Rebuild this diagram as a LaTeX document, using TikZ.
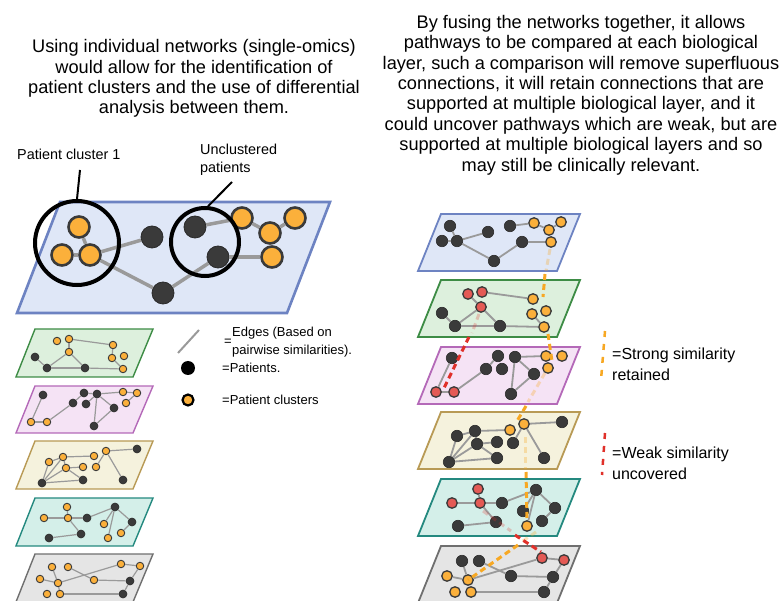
\documentclass[tikz,border=0pt]{standalone}
\usepackage{fontspec}
\setmainfont{Liberation Sans}
\definecolor{dkf}{HTML}{3A3A3A}
\definecolor{dkb}{HTML}{2A2A2A}
\definecolor{ogf}{HTML}{FBB03B}
\definecolor{rdf}{HTML}{E45A55}
\definecolor{edg}{HTML}{9A9A9A}
\definecolor{ogd}{HTML}{F7A823}
\definecolor{rdd}{HTML}{E0302A}
\definecolor{bluef}{HTML}{DFE7F7}\definecolor{blueb}{HTML}{6D83C2}
\definecolor{greenf}{HTML}{DDF0DD}\definecolor{greenb}{HTML}{3D8C45}
\definecolor{purf}{HTML}{F5E3F5}\definecolor{purb}{HTML}{B469B8}
\definecolor{yelf}{HTML}{F5F2DD}\definecolor{yelb}{HTML}{B89A55}
\definecolor{tealf}{HTML}{D4EFE9}\definecolor{tealb}{HTML}{24897F}
\definecolor{grayf}{HTML}{E5E5E5}\definecolor{grayb}{HTML}{6F6F6F}
\begin{document}
\begin{tikzpicture}[x=1pt,y=-1pt,
  dkS/.style={circle,fill=dkf,draw=dkb,line width=0.6pt,inner sep=0pt,minimum size=8pt},
  ogS/.style={circle,fill=ogf,draw=dkf,line width=0.9pt,inner sep=0pt,minimum size=7.5pt},
  dkM/.style={circle,fill=dkf,draw=dkb,line width=0.6pt,inner sep=0pt,minimum size=11.5pt},
  ogM/.style={circle,fill=ogf,draw=dkf,line width=1.3pt,inner sep=0pt,minimum size=10.5pt},
  rdM/.style={circle,fill=rdf,draw=dkf,line width=1.3pt,inner sep=0pt,minimum size=10.5pt},
  dkL/.style={circle,fill=dkf,draw=dkb,line width=0.8pt,inner sep=0pt,minimum size=22pt},
  ogL/.style={circle,fill=ogf,draw=dkf,line width=2.6pt,inner sep=0pt,minimum size=21pt},
  edS/.style={draw=edg,line width=1.2pt},
  edM/.style={draw=edg,line width=1.8pt},
  edL/.style={draw=edg,line width=3.5pt},
  planeS/.style={line width=1.4pt},
  planeM/.style={line width=1.8pt},
  ringbox/.style={circle,draw=black,line width=4pt,inner sep=0pt},
  ogdash/.style={draw=ogd,line width=3pt,dash pattern=on 6pt off 4pt},
  rddash/.style={draw=rdd,line width=3pt,dash pattern=on 6pt off 4pt},
  ptext/.style={align=center,font=\fontsize{18.2}{20.4}\selectfont},
  lab/.style={align=left,font=\fontsize{14.4}{18}\selectfont,inner sep=0pt},
  leg/.style={anchor=west,align=left,font=\fontsize{13}{17.5}\selectfont,inner sep=0pt},
  legR/.style={anchor=west,align=left,font=\fontsize{16}{20}\selectfont,inner sep=0pt}
]
\useasboundingbox (0,0) rectangle (782,601);
\clip (0,0) rectangle (782,601);

% ---------- texts ----------
\node[ptext] (t1) at (194,78.5) {Using individual networks (single-omics)\\would allow for the identification of\\patient clusters and the use of differential\\analysis between them.};
\node[ptext] (t2) at (581,95) {By fusing the networks together, it allows\\pathways to be compared at each biological\\layer, such a comparison will remove superfluous\\connections, it will retain connections that are\\supported at multiple biological layer, and it\\could uncover pathways which are weak, but are\\supported at multiple biological layers and so\\may still be clinically relevant.};

% ---------- big plane ----------
\draw[fill=bluef,draw=blueb,line width=2.6pt] (60,202) -- (330,202) -- (287,313) -- (17,313) -- cycle;
\node[ogL] (A) at (79,227) {};
\node[ogL] (B) at (62,255) {};
\node[ogL] (C) at (90,255) {};
\node[dkL] (D) at (152,237) {};
\node[dkL] (E) at (195,227) {};
\node[dkL] (F) at (218,257) {};
\node[dkL] (G) at (163,293) {};
\node[ogL] (H) at (242,218) {};
\node[ogL] (I) at (270,233) {};
\node[ogL] (J) at (295,218) {};
\node[ogL] (K) at (272,257) {};
\foreach \a/\b in {A/C,B/C,C/D,C/G,G/F,E/H,H/I,I/J,F/K} \draw[edL] (\a) -- (\b);
\node[ringbox,minimum size=84pt] (c1) at (77,243) {};
\node[ringbox,minimum size=68pt] (c2) at (205,242) {};
\node[lab,anchor=west] (l1) at (17,154) {Patient cluster 1};
\node[lab,anchor=north west] (l2) at (200,144) {Unclustered\\patients};
\coordinate (p1) at (80,170);
\coordinate (p2) at (232,182);
\draw[line width=2pt] (p1) -- (c1.north);
\draw[line width=2pt] (p2) -- (c2.85);

% ---------- legend left ----------
\coordinate (le1) at (178,353);
\coordinate (le2) at (199,330);
\draw[draw=edg,line width=2pt] (le1) -- (le2);
\node[leg] (lt1) at (224,342) {=};
\node[leg] (lt2) at (232,342) {Edges (Based on\\pairwise similarities).};
\node[circle,fill=black,inner sep=0pt,minimum size=14pt] (ld) at (188,368) {};
\node[leg] (lt3) at (222,368) {=Patients.};
\node[circle,fill=ogf,draw=black,line width=2.2pt,inner sep=0pt,minimum size=11pt] (lo) at (188,400) {};
\node[leg] (lt4) at (222,400) {=Patient clusters};

% ---------- left small stack ----------
% green
\draw[planeS,fill=greenf,draw=greenb] (35,329) -- (153,329) -- (133,377) -- (16,377) -- cycle;
\node[ogS] (ga) at (57,341) {}; \node[ogS] (gb) at (69,339) {}; \node[ogS] (gc) at (69,352) {};
\node[dkS] (gd) at (35,357) {}; \node[dkS] (ge) at (47,368) {}; \node[dkS] (gf) at (85,368) {};
\node[ogS] (gg) at (113,345) {}; \node[ogS] (gh) at (124,356) {}; \node[ogS] (gi) at (112,358) {}; \node[ogS] (gj) at (123,369) {};
\foreach \a/\b in {gb/gc,gb/gg,gc/ge,gc/gf,gd/ge,ge/gf,gf/gj,gg/gi,gi/gj} \draw[edS] (\a) -- (\b);
% purple
\draw[planeS,fill=purf,draw=purb] (35,386) -- (153,386) -- (133,433) -- (16,433) -- cycle;
\node[dkS] (pa) at (43,395) {}; \node[ogS] (pb) at (31,422) {}; \node[ogS] (pc) at (47,422) {};
\node[dkS] (pd) at (73,403) {}; \node[dkS] (pe) at (84,393) {}; \node[dkS] (pf) at (86,404) {};
\node[dkS] (pg) at (97,394) {}; \node[dkS] (ph) at (114,408) {}; \node[dkS] (pi) at (94,426) {};
\node[ogS] (pj) at (123,392) {}; \node[ogS] (pk) at (137,393) {}; \node[ogS] (pl) at (126,403) {};
\foreach \a/\b in {pa/pb,pb/pc,pc/pd,pd/pe,pe/pg,pf/pg,pg/pj,pj/pk,pk/pl,pg/pi,pg/ph,ph/pi} \draw[edS] (\a) -- (\b);
% yellow
\draw[planeS,fill=yelf,draw=yelb] (35,441) -- (153,441) -- (133,489) -- (16,489) -- cycle;
\node[ogS] (ya) at (49,462) {}; \node[ogS] (yb) at (63,457) {}; \node[ogS] (yc) at (66,468) {};
\node[ogS] (yd) at (83,467) {}; \node[ogS] (ye) at (94,456) {}; \node[ogS] (yf) at (96,467) {};
\node[ogS] (yg) at (106,451) {}; \node[dkS] (yh) at (137,449) {}; \node[dkS] (yi) at (42,483) {};
\node[dkS] (yj) at (83,480) {}; \node[dkS] (yk) at (123,480) {};
\foreach \a/\b in {ya/yb,yb/ye,yb/yc,yc/yd,ya/yi,yb/yi,yc/yi,yi/yj,yc/yj,yg/yf,yg/yh,yg/yk} \draw[edS] (\a) -- (\b);
% teal
\draw[planeS,fill=tealf,draw=tealb] (35,498) -- (153,498) -- (133,546) -- (16,546) -- cycle;
\node[ogS] (ta) at (67,507) {}; \node[ogS] (tb) at (44,518) {}; \node[ogS] (tc) at (68,518) {};
\node[dkS] (td) at (87,518) {}; \node[dkS] (te) at (115,507) {}; \node[dkS] (tf) at (132,522) {};
\node[ogS] (tg) at (104,524) {}; \node[ogS] (th) at (108,538) {}; \node[ogS] (ti) at (121,533) {};
\node[dkS] (tj) at (49,538) {}; \node[dkS] (tk) at (81,534) {};
\foreach \a/\b in {ta/tc,tb/tc,tc/td,td/te,te/tf,te/tg,te/th,tf/ti,tc/tk,tj/tk} \draw[edS] (\a) -- (\b);
% gray
\draw[planeS,fill=grayf,draw=grayb] (35,554) -- (153,554) -- (133,602) -- (16,602) -- cycle;
\node[ogS] (ka) at (52,567) {}; \node[ogS] (kb) at (68,567) {}; \node[ogS] (kc) at (40,579) {};
\node[ogS] (kd) at (58,583) {}; \node[ogS] (ke) at (47,594) {}; \node[ogS] (kf) at (60,594) {};
\node[ogS] (kg) at (94,580) {}; \node[ogS] (kh) at (121,564) {}; \node[ogS] (ki) at (140,566) {};
\node[dkS] (kj) at (130,581) {}; \node[dkS] (kk) at (123,594) {};
\foreach \a/\b in {ka/kd,kc/kd,kd/kf,kb/kg,kd/kh,kh/ki,ki/kj,kg/kj,kj/kk,kf/kk} \draw[edS] (\a) -- (\b);

% ---------- right stack ----------
% blue
\draw[planeM,fill=bluef,draw=blueb] (441,214) -- (580,214) -- (557,271) -- (418,271) -- cycle;
\node[dkM] (ba) at (450,226) {}; \node[dkM] (bb) at (442,241) {}; \node[dkM] (bc) at (457,241) {};
\node[dkM] (bd) at (488,232) {}; \node[dkM] (be) at (494,261) {}; \node[dkM] (bf) at (522,242) {};
\node[dkM] (bg) at (510,226) {}; \node[ogM] (bh) at (534,223) {}; \node[ogM] (bi) at (549,230) {};
\node[ogM] (bj) at (561,222) {}; \node[ogM] (bk) at (551,242) {};
\foreach \a/\b in {ba/bc,bb/bc,bc/bd,bc/be,be/bf,bf/bk,bg/bh,bh/bi,bi/bj} \draw[edM] (\a) -- (\b);
% green
\draw[planeM,fill=greenf,draw=greenb] (441,280) -- (580,280) -- (557,337) -- (418,337) -- cycle;
\node[rdM] (ra) at (468,294) {}; \node[rdM] (rb) at (482,292) {}; \node[rdM] (rc) at (481,307) {};
\node[dkM] (rd) at (442,313) {}; \node[dkM] (re) at (455,326) {}; \node[dkM] (rf) at (500,326) {};
\node[ogM] (rg) at (533,299) {}; \node[ogM] (rh) at (546,311) {}; \node[ogM] (ri) at (532,314) {};
\node[ogM] (rj) at (544,327) {};
\foreach \a/\b in {ra/rc,rb/rg,rc/re,rc/rf,rd/re,re/rf,rf/rj,ri/rj} \draw[edM] (\a) -- (\b);
% purple
\draw[planeM,fill=purf,draw=purb] (441,347) -- (580,347) -- (557,404) -- (418,404) -- cycle;
\node[dkM] (ua) at (452,358) {}; \node[rdM] (ub) at (436,392) {}; \node[rdM] (uc) at (454,392) {};
\node[dkM] (ud) at (486,369) {}; \node[dkM] (ue) at (498,356) {}; \node[dkM] (uf) at (502,369) {};
\node[dkM] (ug) at (515,357) {}; \node[dkM] (uh) at (534,374) {}; \node[dkM] (ui) at (511,394) {};
\node[ogM] (uj) at (546,356) {}; \node[ogM] (uk) at (562,356) {}; \node[ogM] (ul) at (548,368) {};
\foreach \a/\b in {ua/ub,ub/uc,uc/ud,ud/ue,ug/uj,ug/ui,ug/uh,uh/ui} \draw[edM] (\a) -- (\b);
% yellow
\draw[planeM,fill=yelf,draw=yelb] (441,412) -- (580,412) -- (557,469) -- (418,469) -- cycle;
\node[dkM] (va) at (457,436) {}; \node[dkM] (vb) at (475,431) {}; \node[dkM] (vc) at (477,444) {};
\node[dkM] (vd) at (497,442) {}; \node[ogM] (ve) at (510,430) {}; \node[ogM] (vf) at (524,424) {};
\node[dkM] (vg) at (562,422) {}; \node[dkM] (vh) at (513,443) {}; \node[dkM] (vi) at (449,462) {};
\node[dkM] (vj) at (497,458) {}; \node[dkM] (vk) at (544,458) {};
\foreach \a/\b in {va/vb,vb/ve,vb/vc,vc/vd,va/vi,vb/vi,vc/vi,vi/vj,vc/vj,vf/vg,vf/vh,vf/vk} \draw[edM] (\a) -- (\b);
% teal
\draw[planeM,fill=tealf,draw=tealb] (441,479) -- (580,479) -- (557,536) -- (418,536) -- cycle;
\node[rdM] (wa) at (478,489) {}; \node[rdM] (wb) at (452,503) {}; \node[rdM] (wc) at (480,503) {};
\node[dkM] (wd) at (502,503) {}; \node[dkM] (we) at (536,490) {}; \node[dkM] (wf) at (555,508) {};
\node[dkM] (wg) at (523,511) {}; \node[ogM] (wh) at (527,526) {}; \node[dkM] (wi) at (542,521) {};
\node[dkM] (wj) at (458,526) {}; \node[dkM] (wk) at (496,522) {};
\foreach \a/\b in {wa/wc,wb/wc,wc/wd,wd/we,we/wf,we/wg,we/wh,wf/wi,wc/wk,wj/wk} \draw[edM] (\a) -- (\b);
% gray
\draw[planeM,fill=grayf,draw=grayb] (441,546) -- (580,546) -- (557,603) -- (418,603) -- cycle;
\node[dkM] (xa) at (462,561) {}; \node[dkM] (xb) at (479,561) {}; \node[ogM] (xc) at (447,576) {};
\node[ogM] (xd) at (468,580) {}; \node[ogM] (xe) at (455,592) {}; \node[ogM] (xf) at (471,592) {};
\node[dkM] (xg) at (511,576) {}; \node[rdM] (xh) at (542,558) {}; \node[rdM] (xi) at (564,560) {};
\node[dkM] (xj) at (553,577) {}; \node[dkM] (xk) at (544,592) {};
\foreach \a/\b in {xa/xd,xc/xd,xd/xf,xb/xg,xd/xh,xh/xi,xi/xj,xg/xj,xj/xk,xf/xk} \draw[edM] (\a) -- (\b);

% ---------- similarity dashes ----------
\coordinate (s1) at (550,249); \coordinate (s2) at (546,271);
\coordinate (s3) at (545,274); \coordinate (s4) at (543,297);
\coordinate (s5) at (548,334); \coordinate (s6) at (552,361);
\coordinate (s7) at (545,373); \coordinate (s8) at (528,402);
\coordinate (s9) at (526,406); \coordinate (s10) at (517,421);
\coordinate (s11) at (525,437); \coordinate (s12) at (525,469);
\coordinate (s13) at (526,472); \coordinate (s14) at (527,519);
\coordinate (s15) at (536,532); \coordinate (s16) at (520,543);
\coordinate (s17) at (518,545); \coordinate (s18) at (468,580);
\draw[ogdash,opacity=0.3] (s1) -- (s2);
\draw[ogdash] (s3) -- (s4);
\draw[ogdash] (s5) -- (s6);
\draw[ogdash,opacity=0.3] (s7) -- (s8);
\draw[ogdash] (s9) -- (s10);
\draw[ogdash,opacity=0.3] (s11) -- (s12);
\draw[ogdash] (s13) -- (s14);
\draw[ogdash,opacity=0.3] (s15) -- (s16);
\draw[ogdash] (s17) -- (s18);
\coordinate (r1) at (479,314); \coordinate (r2) at (472,333);
\coordinate (r3) at (469,337); \coordinate (r4) at (444,388);
\coordinate (r5) at (483,511); \coordinate (r6) at (511,531);
\coordinate (r7) at (515,535); \coordinate (r8) at (541,552);
\draw[rddash,opacity=0.25] (r1) -- (r2);
\draw[rddash] (r3) -- (r4);
\draw[rddash,opacity=0.25] (r5) -- (r6);
\draw[rddash] (r7) -- (r8);

% ---------- legend right ----------
\coordinate (q1) at (605,331); \coordinate (q2) at (601,380);
\draw[ogdash,line width=2.5pt,dash pattern=on 6pt off 7pt] (q1) -- (q2);
\node[legR] (qt1) at (612,355) {=Strong similarity};
\node[legR] (qt2) at (612,375) {retained};
\coordinate (q3) at (605,433); \coordinate (q4) at (602,475);
\draw[rddash,line width=2.5pt,dash pattern=on 6pt off 7pt] (q3) -- (q4);
\node[legR] (qt3) at (612,454) {=Weak similarity};
\node[legR] (qt4) at (612,474) {uncovered};
\end{tikzpicture}
\end{document}
